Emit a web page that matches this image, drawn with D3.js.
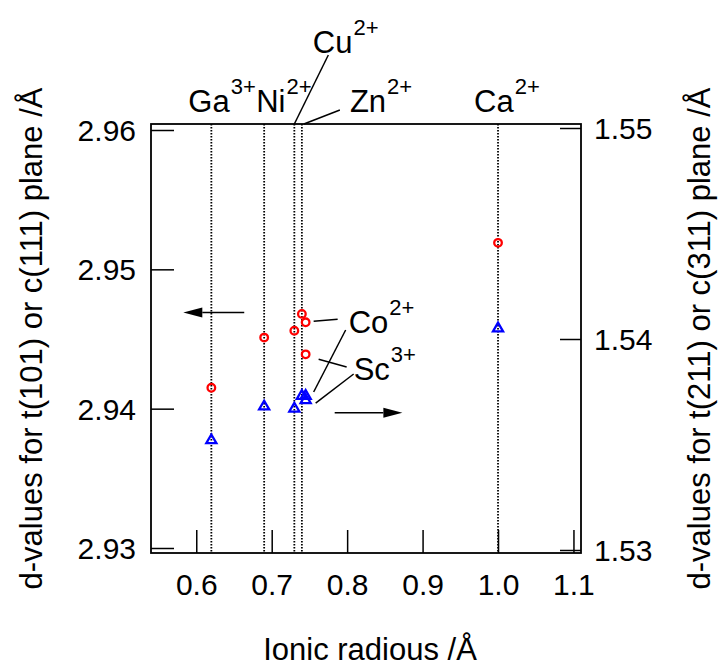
<!DOCTYPE html>
<html><head><meta charset="utf-8">
<script src="https://cdn.jsdelivr.net/npm/d3@7/dist/d3.min.js"></script>
<style>
body{margin:0;background:#fff}
text{font-family:"Liberation Sans",Arial,sans-serif;fill:#000}
</style>
</head><body>
<svg id="c" width="718" height="668"></svg>
<script>
// ---- data ----
const ions      = ["Ga","Ni","Cu","Zn","Co","Sc","Ca"];
const charges   = ["3+","2+","2+","2+","2+","3+","2+"];
const radius    = [0.62, 0.69, 0.73, 0.74, 0.745, 0.745, 1.00];
const dLeft     = [2.9415, 2.9451, 2.9456, 2.9468, 2.9462, 2.9439, 2.9519]; // t(101) / c(111)
const dRight    = [1.5352, 1.5368, 1.5367, 1.5373, 1.5373, 1.5371, 1.5405]; // t(211) / c(311)
const guideIons = ["Ga","Ni","Cu","Zn","Ca"];
const xTicks      = [0.6, 0.7, 0.8, 0.9, 1.0, 1.1];
const yLeftTicks  = [2.93, 2.94, 2.95, 2.96];
const yRightTicks = [1.53, 1.54, 1.55];
const xTitle = "Ionic radious /Å";
const yLeftTitle  = "d-values for t(101) or c(111) plane /Å";
const yRightTitle = "d-values for t(211) or c(311) plane /Å";
// arrows (data units): which axis, y value, x from, x to
const arrowAxis = ["left","right"];
const arrowY    = [2.9469, 1.5365];
const arrowX0   = [0.6636, 0.7835];
const arrowX1   = [0.5828, 0.8732];

// ---- layout ----
const L = 151, R = 581, T = 124, B = 553;
const svg = d3.select("#c");
const x  = d3.scaleLinear().domain([0.54, 1.11]).range([L, R]);
const yL = d3.scaleLinear().domain([2.93, 2.96]).range([548, 130]);
const yR = d3.scaleLinear().domain([1.53, 1.55]).range([550, 128]);

// dotted guide lines
guideIons.forEach(n => {
  const i = ions.indexOf(n);
  svg.append("line").attr("x1", x(radius[i])).attr("x2", x(radius[i]))
    .attr("y1", T).attr("y2", B).attr("stroke", "#000")
    .attr("stroke-width", 1.8).attr("stroke-dasharray", "1.6,1.4");
});

// axes
const gx = svg.append("g").attr("transform", `translate(0,${B})`)
  .call(d3.axisBottom(x).tickValues(xTicks).tickSize(-23).tickFormat(d3.format(".1f")));
gx.selectAll("text").attr("y", 42).attr("dy", 0);
const gl = svg.append("g").attr("transform", `translate(${L},0)`)
  .call(d3.axisLeft(yL).tickValues(yLeftTicks).tickSize(-23).tickFormat(d3.format(".2f")));
gl.selectAll("text").attr("x", -15).attr("dy", "0.35em");
const gr = svg.append("g").attr("transform", `translate(${R},0)`)
  .call(d3.axisRight(yR).tickValues(yRightTicks).tickSize(-21).tickFormat(d3.format(".2f")));
gr.selectAll("text").attr("x", 13).attr("dy", "0.35em");
[gx, gl, gr].forEach(g => {
  g.select(".domain").remove();
  g.selectAll("line").attr("stroke", "#000").attr("stroke-width", 1.5);
  g.selectAll("text").attr("font-size", 30).attr("font-family", '"Liberation Sans",Arial,sans-serif').attr("fill", "#000");
});

// frame
svg.append("rect").attr("x", L).attr("y", T).attr("width", R - L).attr("height", B - T)
  .attr("fill", "none").attr("stroke", "#000").attr("stroke-width", 1.8);

// markers
const pts = ions.map((n, i) => ({n, r: radius[i], a: dLeft[i], b: dRight[i]}));
svg.append("g").selectAll("circle").data(pts).join("circle")
  .attr("cx", d => x(d.r)).attr("cy", d => yL(d.a)).attr("r", 3.8)
  .attr("fill", "none").attr("stroke", "#ff0000").attr("stroke-width", 2.3);
const tri = d3.symbol(d3.symbolTriangle, 44);
svg.append("g").selectAll("path").data(pts).join("path")
  .attr("d", tri).attr("transform", d => `translate(${x(d.r)},${yR(d.b)})`)
  .attr("fill", "none").attr("stroke", "#0000ff").attr("stroke-width", 2.3);

// arrows
arrowAxis.forEach((ax, i) => {
  const yy = ax === "left" ? yL(arrowY[i]) : yR(arrowY[i]);
  const x0 = x(arrowX0[i]), x1 = x(arrowX1[i]);
  const dir = Math.sign(x1 - x0), head = 19, hw = 5;
  svg.append("line").attr("x1", x0).attr("x2", x1 - dir * head).attr("y1", yy).attr("y2", yy)
    .attr("stroke", "#000").attr("stroke-width", 1.5);
  svg.append("path").attr("d", `M${x1},${yy}L${x1 - dir * head},${yy - hw}L${x1 - dir * head},${yy + hw}Z`)
    .attr("fill", "#000");
});

// ion labels
function ionLabel(i, px, py) {
  const t = svg.append("text").attr("x", px).attr("y", py).attr("font-size", 31);
  t.append("tspan").text(ions[i]);
  t.append("tspan").attr("font-size", 22).attr("dy", -18).attr("dx", 1).text(charges[i]);
  return t;
}
const labelOffset = {Ga: [-23, 112], Ni: [-8, 112], Cu: [18.5, 53], Zn: [48, 112], Ca: [-24, 112]};
guideIons.forEach(n => {
  const i = ions.indexOf(n);
  ionLabel(i, x(radius[i]) + labelOffset[n][0], labelOffset[n][1]);
});
function seg(x1, y1, x2, y2) {
  svg.append("line").attr("x1", x1).attr("y1", y1).attr("x2", x2).attr("y2", y2)
    .attr("stroke", "#000").attr("stroke-width", 1.5);
}
// Cu, Zn leaders to the top frame
{
  const cu = ions.indexOf("Cu"), zn = ions.indexOf("Zn");
  seg(x(radius[cu]) + 34, 55, x(radius[cu]), T);
  seg(x(radius[zn]) + 38, 110, x(radius[zn]) + 2, T);
}
// Co and Sc labels with leaders
{
  const co = ions.indexOf("Co"), sc = ions.indexOf("Sc");
  const cx = x(radius[co]), sx = x(radius[sc]);
  ionLabel(co, cx + 43, 333);
  ionLabel(sc, sx + 48, 380);
  seg(cx + 8, yL(dLeft[co]) - 1, cx + 32, yL(dLeft[co]) - 3);
  seg(cx + 8, yR(dRight[co]) - 4, cx + 40, 330);
  seg(sx + 13, yL(dLeft[sc]) + 5, sx + 41, 367);
  seg(sx + 10, yR(dRight[sc]) + 3, sx + 48, 374);
}

// axis titles
svg.append("text").attr("x", (L + R) / 2 + 4).attr("y", 660).attr("text-anchor", "middle")
  .attr("font-size", 31).text(xTitle);
svg.append("text").attr("transform", `translate(42,${(T + B) / 2}) rotate(-90)`)
  .attr("text-anchor", "middle").attr("font-size", 31).text(yLeftTitle);
svg.append("text").attr("transform", `translate(710,${(T + B) / 2}) rotate(-90)`)
  .attr("text-anchor", "middle").attr("font-size", 31).text(yRightTitle);
</script>
</body></html>
